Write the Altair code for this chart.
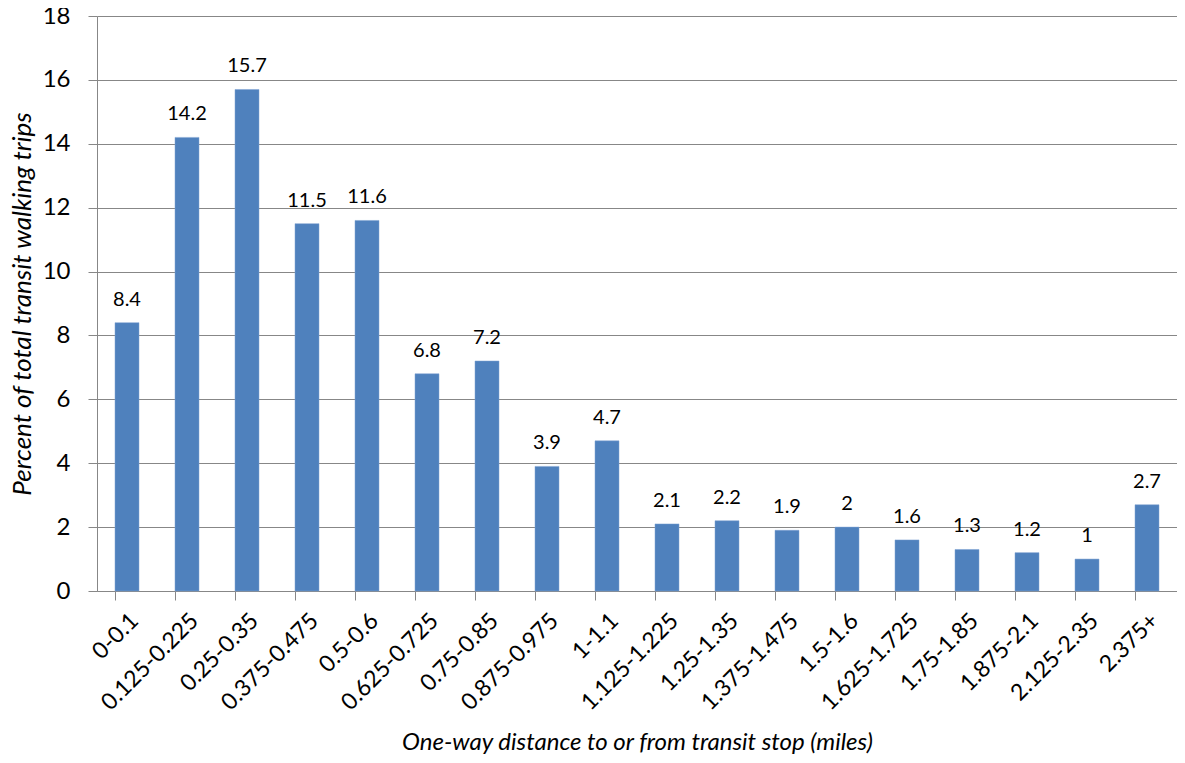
import altair as alt
import pandas as pd

categories = ["0-0.1", "0.125-0.225", "0.25-0.35", "0.375-0.475", "0.5-0.6",
              "0.625-0.725", "0.75-0.85", "0.875-0.975", "1-1.1", "1.125-1.225",
              "1.25-1.35", "1.375-1.475", "1.5-1.6", "1.625-1.725", "1.75-1.85",
              "1.875-2.1", "2.125-2.35", "2.375+"]
values = [8.4, 14.2, 15.7, 11.5, 11.6, 6.8, 7.2, 3.9, 4.7, 2.1,
          2.2, 1.9, 2, 1.6, 1.3, 1.2, 1, 2.7]
labels = ["8.4", "14.2", "15.7", "11.5", "11.6", "6.8", "7.2", "3.9", "4.7", "2.1",
          "2.2", "1.9", "2", "1.6", "1.3", "1.2", "1", "2.7"]
y_ticks = [0, 2, 4, 6, 8, 10, 12, 14, 16, 18]

df = pd.DataFrame({"cat": categories, "val": values, "lab": labels})

FONT = "Lato"
GRAY = "#878787"
W, H = 1080, 575

x_enc = alt.X("cat:N", sort=categories,
              scale=alt.Scale(paddingInner=0.6, paddingOuter=0.3),
              axis=alt.Axis(title="One-way distance to or from transit stop (miles)",
                            labelAngle=-45, labelFontSize=23, labelFont=FONT,
                            labelColor="black", labelPadding=9,
                            bandPosition=0, tickSize=9, tickColor=GRAY,
                            domainColor=GRAY, grid=False,
                            titleFont=FONT, titleFontStyle="italic",
                            titleFontWeight="normal", titleFontSize=24,
                            titleColor="black", titleX=W / 2, titleY=151,
                            titleBaseline="middle", titleAlign="center"))

y_enc = alt.Y("val:Q", scale=alt.Scale(domain=[0, 18], nice=False),
              axis=alt.Axis(title="Percent of total transit walking trips",
                            values=y_ticks, labelFontSize=24, labelFont=FONT,
                            labelColor="black", labelPadding=18,
                            tickSize=9, tickColor=GRAY, domainColor=GRAY,
                            grid=True, gridColor=GRAY, gridWidth=1,
                            titleFont=FONT, titleFontStyle="italic",
                            titleFontWeight="normal", titleFontSize=26,
                            titleColor="black", titleX=-75, titleY=H / 2,
                            titleBaseline="middle", titleAlign="center",
                            titleAngle=270))

bars = alt.Chart(df).mark_bar(color="#4F81BD", stroke="#7FA3D3", strokeWidth=0.5).encode(
    x=x_enc, y=y_enc)

text = alt.Chart(df).mark_text(font=FONT, fontSize=20, color="black",
                               baseline="alphabetic", dy=-17).encode(
    x=alt.X("cat:N", sort=categories),
    y=alt.Y("val:Q"),
    text="lab:N")

chart = (bars + text).properties(
    width=W, height=H,
    autosize=alt.AutoSizeParams(type="none"),
    padding={"left": 89, "top": 8, "right": 0, "bottom": 164},
).configure_view(stroke=None)

chart.save("out.html", embed_options={"renderer": "svg", "actions": False})
